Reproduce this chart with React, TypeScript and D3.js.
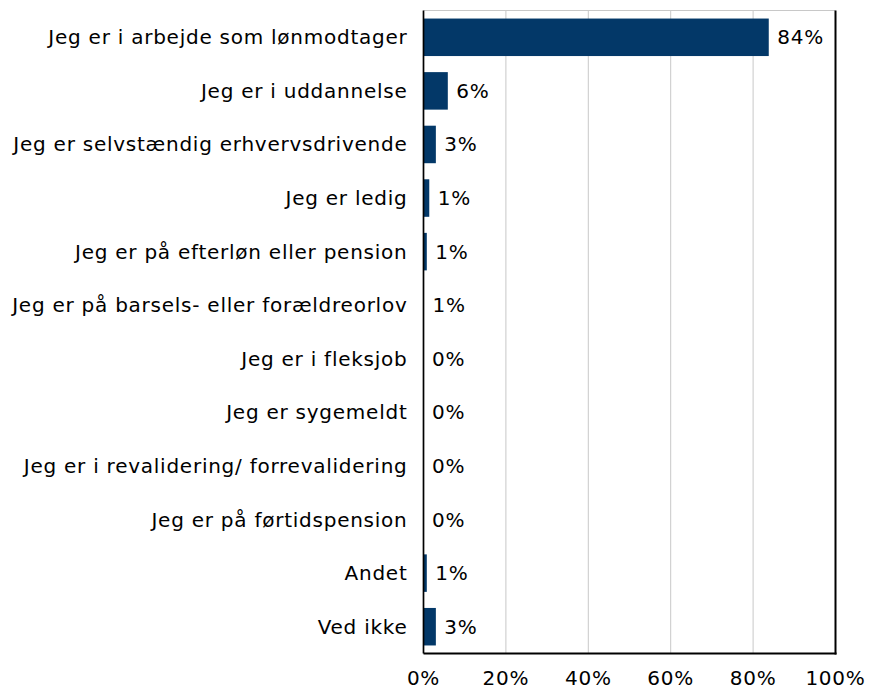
import React, { useEffect } from 'react';
import * as d3 from 'd3';

const categories = [
  'Jeg er i arbejde som lønmodtager',
  'Jeg er i uddannelse',
  'Jeg er selvstændig erhvervsdrivende',
  'Jeg er ledig',
  'Jeg er på efterløn eller pension',
  'Jeg er på barsels- eller forældreorlov',
  'Jeg er i fleksjob',
  'Jeg er sygemeldt',
  'Jeg er i revalidering/ forrevalidering',
  'Jeg er på førtidspension',
  'Andet',
  'Ved ikke',
];
const values = [83.8, 5.9, 3.0, 1.4, 0.8, 0.1, 0, 0, 0, 0, 0.8, 3.0];
const valueLabels = ['84%', '6%', '3%', '1%', '1%', '1%', '0%', '0%', '0%', '0%', '1%', '3%'];
const xTicks = [0, 20, 40, 60, 80, 100];

const width = 869;
const height = 692;
const left = 423.5;
const right = 835.5;
const top = 10.5;
const bottom = 653.5;
const barColor = '#033868';
const font = 'DejaVu Sans, Verdana, sans-serif';
const fontSize = 20;
const spacing = 0.75;

const App = () => {
  useEffect(() => {
    document.body.style.margin = '0';
  }, []);

  const x = d3.scaleLinear().domain([0, 100]).range([left, right]);
  const y = d3.scaleBand().domain(categories).range([top, bottom]).paddingInner(0.3).paddingOuter(0.15);
  const mid = (c: string) => (y(c) ?? 0) + y.bandwidth() / 2;

  return (
    <svg width={width} height={height} style={{ display: 'block' }}>
      <rect width={width} height={height} fill="#fff" />
      {/* gridlines */}
      {xTicks.slice(1, -1).map((t) => (
        <line key={t} x1={x(t)} x2={x(t)} y1={top} y2={bottom} stroke="#c8c8c8" strokeWidth={1} />
      ))}
      <line x1={left} x2={right} y1={top} y2={top} stroke="#c8c8c8" strokeWidth={1} />

      {/* bars */}
      {categories.map((c, i) => (
        <rect
          key={c}
          x={x(0)}
          y={y(c)}
          width={x(values[i]) - x(0)}
          height={y.bandwidth()}
          fill={barColor}
        />
      ))}

      {/* frame */}
      <line x1={left} x2={left} y1={top} y2={bottom} stroke="#000" strokeWidth={1.7} />
      <line x1={right} x2={right} y1={top} y2={bottom + 1} stroke="#000" strokeWidth={2} />
      <line x1={left} x2={right + 1} y1={bottom} y2={bottom} stroke="#000" strokeWidth={2} />

      <g fontFamily={font} fontSize={fontSize} fill="#000" letterSpacing={spacing}>
        {/* category labels */}
        {categories.map((c) => (
          <text key={c} x={left - 16} y={mid(c)} textAnchor="end" dominantBaseline="central">
            {c}
          </text>
        ))}

        {/* value labels */}
        {categories.map((c, i) => (
          <text key={c} x={x(values[i]) + 8.5} y={mid(c)} dominantBaseline="central">
            {valueLabels[i]}
          </text>
        ))}

        {/* x tick labels */}
        {xTicks.map((t) => (
          <text key={t} x={x(t)} y={678} textAnchor="middle" dominantBaseline="central">
            {t}%
          </text>
        ))}
      </g>
    </svg>
  );
};

export default App;
